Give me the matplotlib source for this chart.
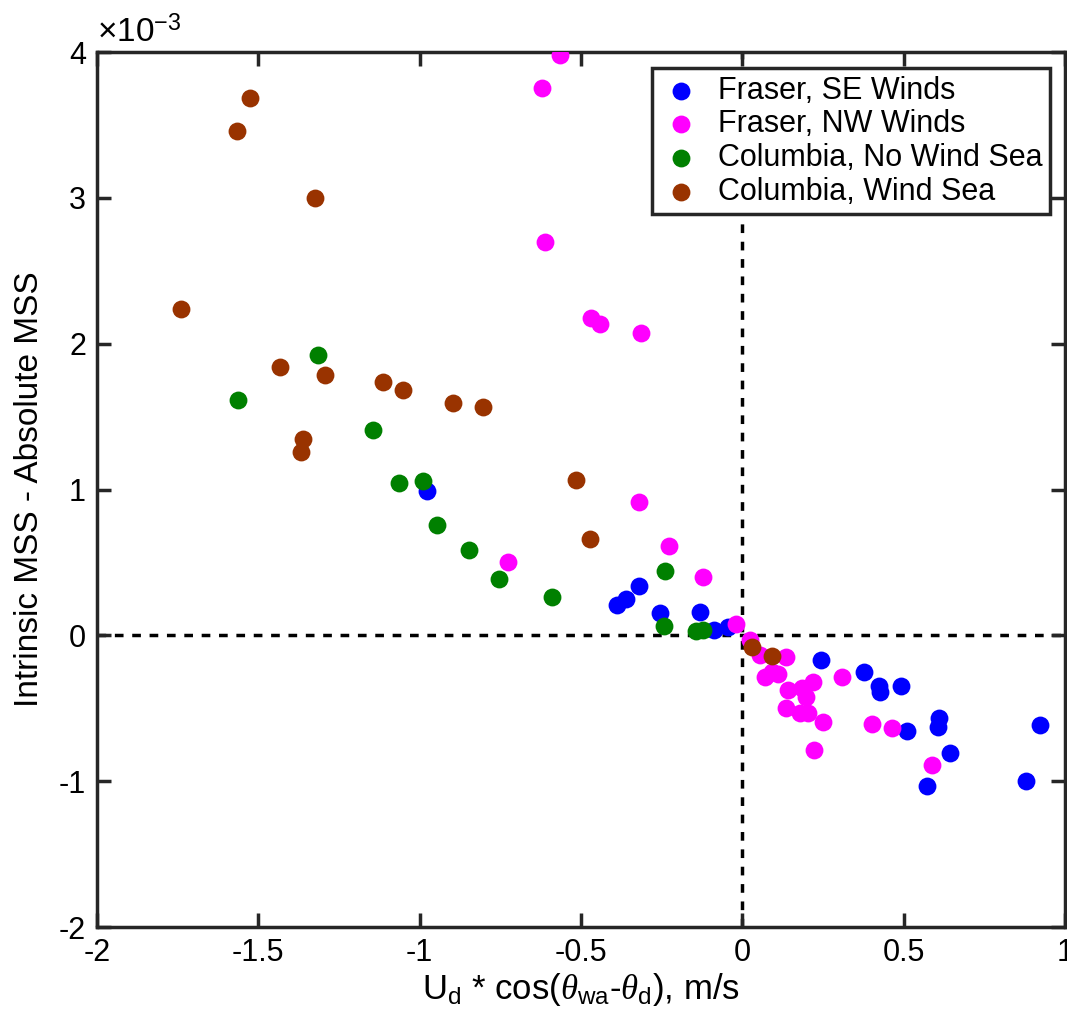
import matplotlib
matplotlib.use('Agg')
import matplotlib.pyplot as plt
import numpy as np

plt.rcParams['font.family'] = ['Liberation Sans', 'DejaVu Sans']
plt.rcParams['mathtext.fontset'] = 'custom'
plt.rcParams['mathtext.rm'] = 'Liberation Sans'
plt.rcParams['mathtext.it'] = 'Liberation Serif:italic'
plt.rcParams['axes.unicode_minus'] = False

# values (y in units of 1e-3)
se_x = [-0.977, -0.388, -0.360, -0.321, -0.254, -0.132, -0.086, -0.044,
        0.244, 0.378, 0.423, 0.426, 0.493, 0.610, 0.608, 0.510, 0.645,
        0.574, 0.881, 0.922]
se_y = [0.993, 0.211, 0.248, 0.341, 0.156, 0.161, 0.037, 0.060,
        -0.169, -0.253, -0.347, -0.386, -0.345, -0.565, -0.629, -0.656,
        -0.803, -1.034, -0.999, -0.615]

nw_x = [-0.565, -0.620, -0.610, -0.470, -0.440, -0.313, -0.726, -0.321,
        -0.227, -0.121, -0.018, 0.024, 0.055, 0.135, 0.070, 0.111, 0.091,
        0.142, 0.184, 0.218, 0.197, 0.308, 0.137, 0.178, 0.204, 0.249,
        0.223, 0.403, 0.463, 0.588]
nw_y = [3.984, 3.755, 2.698, 2.176, 2.137, 2.073, 0.506, 0.918,
        0.614, 0.399, 0.080, -0.032, -0.135, -0.146, -0.283, -0.265, -0.249,
        -0.375, -0.363, -0.318, -0.421, -0.283, -0.500, -0.535, -0.535, -0.592,
        -0.787, -0.608, -0.638, -0.889]

cn_x = [-1.316, -1.563, -1.144, -1.065, -0.988, -0.945, -0.848, -0.755,
        -0.589, -0.238, -0.243, -0.142, -0.121]
cn_y = [1.925, 1.613, 1.410, 1.044, 1.060, 0.756, 0.584, 0.385,
        0.264, 0.444, 0.065, 0.032, 0.037]

cw_x = [-1.525, -1.566, -1.323, -1.740, -1.432, -1.294, -1.115, -1.052,
        -0.895, -0.802, -1.363, -1.369, -0.515, -0.473, 0.031, 0.093]
cw_y = [3.686, 3.457, 3.000, 2.240, 1.840, 1.783, 1.737, 1.684,
        1.597, 1.568, 1.346, 1.259, 1.069, 0.659, -0.077, -0.139]

x_ticks = [-2, -1.5, -1, -0.5, 0, 0.5, 1]
x_tick_labels = ['-2', '-1.5', '-1', '-0.5', '0', '0.5', '1']
y_ticks = [-2, -1, 0, 1, 2, 3, 4]


def main():
    fig = plt.figure(figsize=(10.67, 10.23), dpi=100)
    ax = fig.add_axes([0.0909, 0.0938, 0.9071, 0.8552])

    ax.axhline(0, color='k', ls=(0, (2.5, 2.5)), lw=2.5, zorder=1)
    ax.axvline(0, color='k', ls=(0, (2.5, 2.5)), lw=2.5, zorder=1)

    s = 165
    ax.scatter(se_x, se_y, s=s, c='#0000ff', lw=0, label='Fraser, SE Winds', zorder=3)
    ax.scatter(nw_x, nw_y, s=s, c='#ff00ff', lw=0, label='Fraser, NW Winds', zorder=3)
    ax.scatter(cn_x, cn_y, s=s, c='#008000', lw=0, label='Columbia, No Wind Sea', zorder=3)
    ax.scatter(cw_x, cw_y, s=s, c='#993300', lw=0, label='Columbia, Wind Sea', zorder=3)

    ax.set_xlim(-2, 1)
    ax.set_ylim(-2, 4)
    ax.set_xticks(x_ticks)
    ax.set_xticklabels(x_tick_labels)
    ax.set_yticks(y_ticks)
    ax.tick_params(direction='in', length=10, width=2.5, labelsize=22,
                   top=True, right=True, color='#262626', pad=8)
    for sp in ax.spines.values():
        sp.set_linewidth(2.5)
        sp.set_color('#262626')

    ax.set_xlabel(r'U$_\mathrm{d}$ * cos($\theta_\mathrm{wa}$-$\theta_\mathrm{d}$), m/s',
                  fontsize=25, labelpad=2)
    ax.set_ylabel('Intrinsic MSS - Absolute MSS', fontsize=24, labelpad=10)
    ax.text(0.0, 1.003, r'$\times$10$^{\mathrm{-3}}$', transform=ax.transAxes,
            fontsize=24, ha='left', va='bottom')

    leg = ax.legend(loc='upper right', bbox_to_anchor=(0.985, 0.982), fontsize=22,
                    frameon=True, fancybox=False, handletextpad=0.5,
                    borderpad=0.25, labelspacing=0.12, handlelength=1.4,
                    markerscale=1.0, borderaxespad=0)
    leg.get_frame().set_edgecolor('#262626')
    leg.get_frame().set_linewidth(2.5)
    leg.get_frame().set_alpha(1)

    fig.savefig('out.png', dpi=100)


if __name__ == '__main__':
    main()
